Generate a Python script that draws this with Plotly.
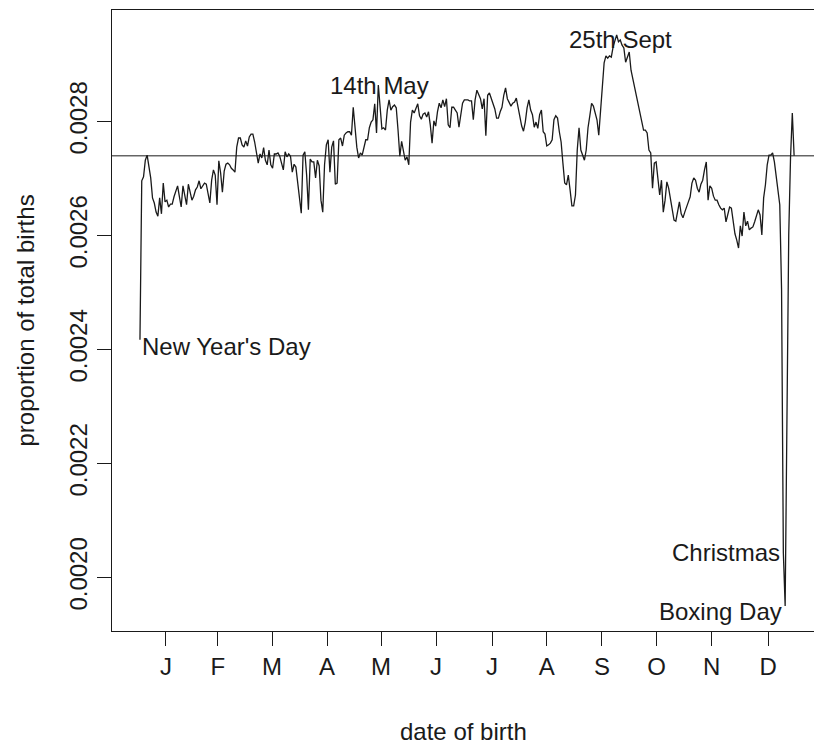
import plotly.graph_objects as go

# Daily proportion of total births, in millionths (e.g. 2650 -> 0.002650)
jan = [2417, 2696, 2703, 2732, 2741, 2718, 2701, 2666, 2657, 2641, 2634, 2666, 2638, 2692, 2659, 2662,
       2650, 2655, 2655, 2668, 2680, 2687, 2668, 2650, 2687, 2669, 2654, 2690, 2673, 2662, 2669]
feb = [2680, 2685, 2696, 2682, 2687, 2692, 2690, 2675, 2657, 2697, 2715, 2706, 2654, 2731, 2710, 2676,
       2713, 2725, 2727, 2724, 2718, 2715, 2711, 2755, 2771, 2771, 2759, 2755, 2766]
mar = [2757, 2773, 2778, 2778, 2764, 2745, 2727, 2743, 2736, 2754, 2732, 2724, 2750, 2724, 2718, 2743,
       2743, 2745, 2739, 2727, 2715, 2747, 2738, 2743, 2739, 2711, 2725, 2720, 2692, 2671, 2639]
apr = [2741, 2747, 2706, 2645, 2734, 2729, 2729, 2701, 2732, 2722, 2662, 2641, 2724, 2759, 2768, 2711,
       2755, 2766, 2690, 2692, 2768, 2771, 2757, 2776, 2780, 2782, 2782, 2776, 2825, 2785]
may = [2755, 2736, 2745, 2741, 2754, 2768, 2768, 2789, 2799, 2803, 2831, 2780, 2864, 2820, 2787, 2789,
       2785, 2820, 2838, 2820, 2826, 2829, 2824, 2785, 2739, 2765, 2750, 2732, 2738, 2724, 2799]
jun = [2820, 2815, 2824, 2831, 2810, 2804, 2813, 2815, 2808, 2817, 2794, 2762, 2801, 2792, 2817, 2832,
       2824, 2838, 2826, 2840, 2794, 2789, 2825, 2825, 2820, 2815, 2790, 2812, 2832, 2838]
jul = [2838, 2838, 2836, 2836, 2803, 2838, 2855, 2846, 2840, 2822, 2840, 2775, 2846, 2850, 2841, 2832,
       2822, 2806, 2806, 2817, 2825, 2846, 2859, 2840, 2832, 2827, 2832, 2834, 2841, 2824, 2804]
aug = [2792, 2783, 2799, 2824, 2838, 2820, 2812, 2790, 2799, 2788, 2812, 2820, 2782, 2778, 2757, 2759,
       2762, 2768, 2803, 2810, 2806, 2782, 2764, 2727, 2692, 2689, 2706, 2680, 2652, 2652, 2671]
sep = [2750, 2789, 2750, 2741, 2732, 2750, 2789, 2810, 2832, 2827, 2817, 2803, 2776, 2825, 2862, 2903,
       2915, 2911, 2915, 2913, 2931, 2940, 2952, 2940, 2943, 2934, 2929, 2904, 2913, 2922]
oct_ = [2890, 2875, 2861, 2843, 2827, 2813, 2799, 2785, 2785, 2780, 2750, 2745, 2683, 2727, 2729, 2694,
        2671, 2697, 2641, 2662, 2694, 2683, 2666, 2645, 2627, 2625, 2641, 2659, 2638, 2631, 2641]
nov = [2652, 2659, 2668, 2692, 2701, 2697, 2683, 2676, 2690, 2697, 2715, 2729, 2662, 2687, 2683, 2669,
       2662, 2662, 2654, 2648, 2645, 2648, 2624, 2636, 2650, 2648, 2627, 2603, 2592, 2578]
dec = [2617, 2599, 2641, 2617, 2625, 2610, 2613, 2615, 2624, 2636, 2645, 2636, 2601, 2666, 2689, 2724,
       2741, 2741, 2745, 2729, 2706, 2680, 2654, 2505, 2043, 1950, 2347, 2601, 2736, 2815, 2740]

reference_level = 1 / 365

month_tick_pos = [15.5, 44.5, 74.7, 105.4, 135.5, 166.2, 197.5, 228, 258.8, 289.2, 320, 351.5]
month_tick_labels = ["J", "F", "M", "A", "M", "J", "J", "A", "S", "O", "N", "D"]

y_tick_vals = [0.0020, 0.0022, 0.0024, 0.0026, 0.0028]
y_tick_labels = ["0.0020", "0.0022", "0.0024", "0.0026", "0.0028"]

# annotations: (text, day, value, xanchor)
labels = [
    ("New Year's Day", 1.0, 0.002405, "left"),
    ("14th May", 134.5, 0.002864, "center"),
    ("25th Sept", 268.9, 0.002943, "center"),
    ("Christmas", 359.5, 0.002043, "right"),
    ("Boxing Day", 360.4, 0.001941, "right"),
]

series = jan + feb + mar + apr + may + jun + jul + aug + sep + oct_ + nov + dec
days = list(range(1, len(series) + 1))
prop = [v * 1e-6 for v in series]

INK = "#1a1a1a"
FONT = "Liberation Sans, Arial, Helvetica, sans-serif"

fig = go.Figure()
fig.add_trace(go.Scatter(x=days, y=prop, mode="lines",
                         line=dict(color=INK, width=1.3), showlegend=False,
                         hoverinfo="skip"))
fig.add_shape(type="line", xref="paper", x0=0, x1=1, yref="y",
              y0=reference_level, y1=reference_level,
              line=dict(color=INK, width=1))

for text, dx, vy, anchor in labels:
    fig.add_annotation(x=dx, y=vy, xref="x", yref="y", text=text,
                       showarrow=False, xanchor=anchor, yanchor="middle",
                       font=dict(family=FONT, size=24, color=INK))

# axis titles
fig.add_annotation(x=0.5, y=0, xref="paper", yref="paper", text="date of birth",
                   showarrow=False, xanchor="center", yanchor="middle", yshift=-100,
                   font=dict(family=FONT, size=24, color=INK))
fig.add_annotation(x=0, y=0.5, xref="paper", yref="paper", text="proportion of total births",
                   showarrow=False, xanchor="center", yanchor="middle", xshift=-87,
                   textangle=-90, font=dict(family=FONT, size=24, color=INK))

fig.update_layout(
    width=814, height=746,
    margin=dict(l=112, r=0, t=10, b=115, pad=0),
    paper_bgcolor="white", plot_bgcolor="white",
    font=dict(family=FONT, size=24, color=INK),
    xaxis=dict(range=[-14.6, 377.1], tickmode="array", tickvals=month_tick_pos,
               ticktext=month_tick_labels, ticks="outside", ticklen=14,
               tickcolor=INK, tickwidth=1, showline=True, linecolor=INK,
               linewidth=1, mirror=True, showgrid=False, zeroline=False,
               tickfont=dict(family=FONT, size=24, color=INK)),
    yaxis=dict(range=[0.0019061, 0.0029956], tickmode="array", tickvals=y_tick_vals,
               ticktext=y_tick_labels, tickangle=-90, ticks="outside", ticklen=14,
               tickcolor=INK, tickwidth=1, showline=True, linecolor=INK,
               linewidth=1, mirror=False, showgrid=False, zeroline=False,
               tickfont=dict(family=FONT, size=24, color=INK)),
)

fig.write_html("out.html")
